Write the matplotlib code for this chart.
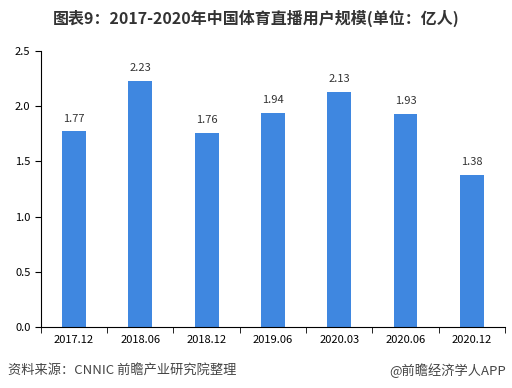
import matplotlib.pyplot as plt

plt.rcParams['font.family'] = ['Noto Sans CJK SC', 'DejaVu Sans']

categories = ['2017.12', '2018.06', '2018.12', '2019.06', '2020.03', '2020.06', '2020.12']
users = [1.77, 2.23, 1.76, 1.94, 2.13, 1.93, 1.38]

fig = plt.figure(figsize=(5.12, 3.88), dpi=100)
ax = fig.add_axes([0.080, 0.157, 0.906, 0.712])

x = range(len(categories))
ax.bar(x, users, width=0.36, color='#3F87E0', zorder=2)
for i, v in enumerate(users):
    ax.text(i, v + 0.07, f'{v:.2f}', ha='center', va='bottom', fontsize=8, color='#333333')

ax.set_xlim(-0.5, len(categories) - 0.5)
ax.set_ylim(0, 2.5)
ax.set_yticks([0, 0.5, 1.0, 1.5, 2.0, 2.5])
ax.set_yticklabels(['0.0', '0.5', '1.0', '1.5', '2.0', '2.5'], fontsize=8)
ax.set_xticks(list(x))
ax.set_xticklabels(categories, fontsize=8)
ax.set_xticks([i - 0.5 for i in range(len(categories) + 1)], minor=True)
ax.tick_params(axis='x', which='major', length=0, pad=6)
ax.tick_params(axis='x', which='minor', length=4, direction='out')
ax.tick_params(axis='y', length=4, direction='out')

for s in ['top', 'right']:
    ax.spines[s].set_visible(False)

fig.text(0.5, 0.953, '图表9：2017-2020年中国体育直播用户规模(单位：亿人)',
         ha='center', va='center', fontsize=11.5, fontweight='bold', color='#333333')
fig.text(0.015, 0.045, '资料来源：CNNIC 前瞻产业研究院整理', ha='left', va='center',
         fontsize=9.5, color='#444444')
fig.text(0.988, 0.045, '@前瞻经济学人APP', ha='right', va='center',
         fontsize=9.5, color='#444444')

fig.savefig('out.png', dpi=100)
